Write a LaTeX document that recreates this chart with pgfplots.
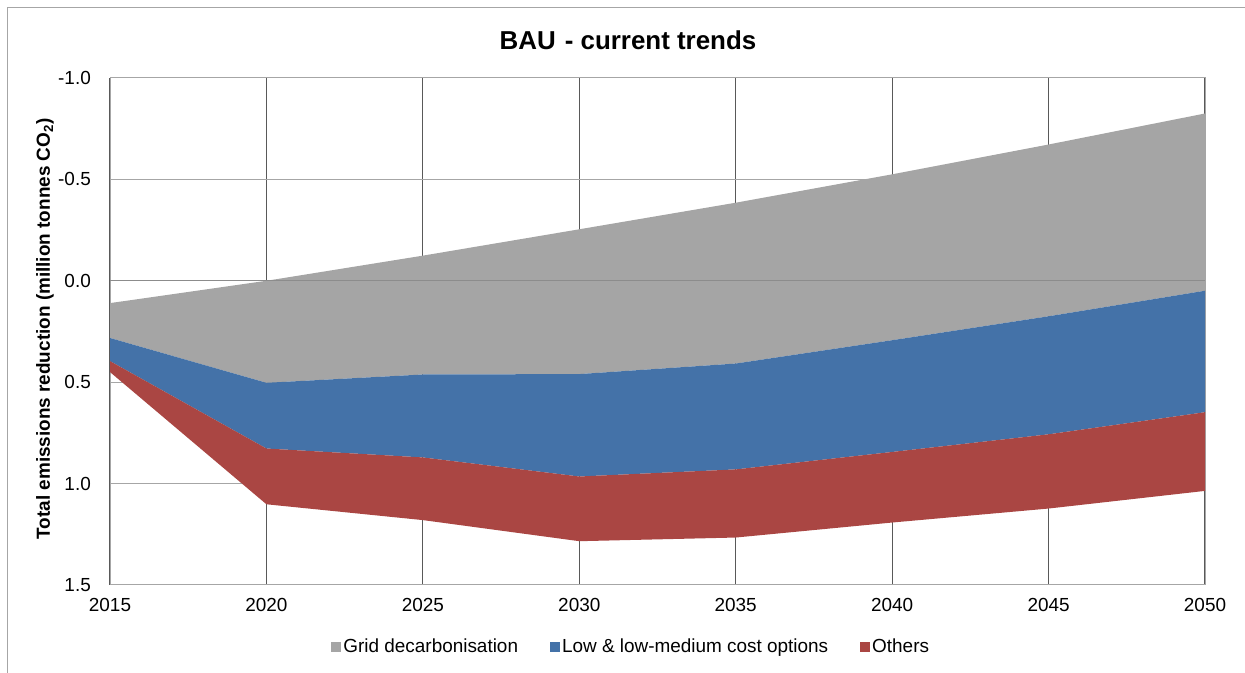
\documentclass[border=0pt]{standalone}
\usepackage{fontspec}
\setmainfont{Liberation Sans}
\usepackage{pgfplots}
\usepackage{pgfplotstable}
\pgfplotsset{compat=1.18}
\usepgfplotslibrary{fillbetween}
\definecolor{cgray}{HTML}{A5A5A5}
\definecolor{cblue}{HTML}{4472A8}
\definecolor{cred}{HTML}{AA4643}
\definecolor{gridlight}{HTML}{A6A6A6}
\definecolor{griddark}{HTML}{595959}
\definecolor{zeroline}{HTML}{8C8C8C}

\pgfplotstableread{
year   top     b1     b2     b3
2015   0.110   0.282  0.396  0.450
2020   0.000   0.503  0.827  1.102
2025  -0.124   0.462  0.871  1.180
2030  -0.254   0.460  0.965  1.284
2035  -0.385   0.408  0.930  1.266
2040  -0.525   0.293  0.844  1.192
2045  -0.672   0.175  0.757  1.123
2050  -0.825   0.049  0.648  1.036
}\bautable

\pgfplotsset{sqlegend/.style={legend image code/.code={\fill[##1] (0bp,-5bp) rectangle (10bp,5bp);}}}

\begin{document}
\begin{tikzpicture}
\begin{axis}[
  at={(110bp,88bp)}, anchor=south west,
  scale only axis, width=1095bp, height=507bp,
  xmin=2015, xmax=2050, ymin=-1, ymax=1.5, y dir=reverse,
  xtick={2015,2020,2025,2030,2035,2040,2045,2050},
  ytick={-1,-0.5,0,0.5,1,1.5},
  major tick length=0pt,
  axis line style={draw=gridlight, line width=1bp},
  xmajorgrids, ymajorgrids,
  x grid style={draw=griddark, line width=1.1bp},
  y grid style={draw=gridlight, line width=1bp},
  /pgf/number format/assume math mode=true,
  ticklabel style={font=\fontsize{19}{22}\selectfont},
  xticklabel style={anchor=north, inner sep=0pt, yshift=-13bp, /pgf/number format/1000 sep={}},
  yticklabel style={anchor=east, inner sep=0pt, xshift=-19bp, /pgf/number format/.cd, fixed, fixed zerofill, precision=1},
  ylabel={\bfseries Total emissions reduction (million tonnes CO\textsubscript{2})},
  ylabel style={font=\fontsize{19}{22}\selectfont, at={(axis description cs:-0.0594,0.505)}, anchor=center},
  legend columns=3,
  legend cell align=left,
  legend style={at={(0.476,-0.122)}, anchor=center, draw=none, fill=none,
    font=\fontsize{19}{22}\selectfont,
    /tikz/every even column/.append style={column sep=30bp}},
]
\addplot[name path=A, draw=none, forget plot] table[x=year,y=top]{\bautable};
\addplot[name path=B, draw=none, forget plot] table[x=year,y=b1]{\bautable};
\addplot[name path=C, draw=none, forget plot] table[x=year,y=b2]{\bautable};
\addplot[name path=D, draw=none, forget plot] table[x=year,y=b3]{\bautable};
\addplot[fill=cgray, draw=none, sqlegend] fill between[of=A and B];
\addlegendentry{Grid decarbonisation}
\addplot[fill=cblue, draw=none, sqlegend] fill between[of=B and C];
\addlegendentry{Low \& low-medium cost options}
\addplot[fill=cred, draw=none, sqlegend] fill between[of=C and D];
\addlegendentry{Others}
\addplot[zeroline, line width=1bp, forget plot] coordinates {(2015,0) (2050,0)};
\end{axis}
\draw[gridlight, line width=1.5bp] (7.5bp,0bp) -- (7.5bp,665.5bp) -- (1245bp,665.5bp);
\node[font=\fontsize{26}{30}\selectfont\bfseries] at (628bp,633bp) {BAU\hspace{0.35em}- current trends};
\pgfresetboundingbox
\useasboundingbox (0bp,0bp) rectangle (1245bp,673bp);
\end{tikzpicture}
\end{document}
